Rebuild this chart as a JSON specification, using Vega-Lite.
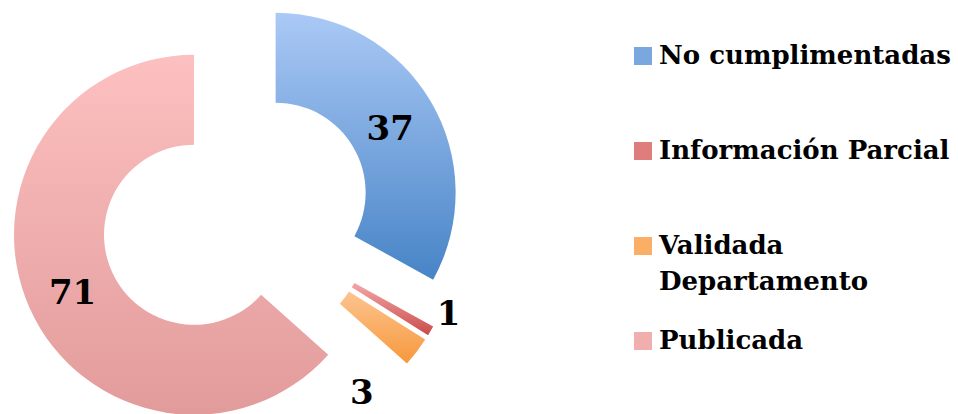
{
  "$schema": "https://vega.github.io/schema/vega-lite/v6.json",
  "width": 472,
  "height": 432,
  "padding": 0,
  "autosize": {"type": "pad"},
  "background": "white",
  "data": {
    "values": [
      {"cat": "No cumplimentadas", "value": 37, "orden": 1},
      {"cat": "Información Parcial", "value": 1, "orden": 2},
      {"cat": "Validada Departamento", "value": 3, "orden": 3},
      {"cat": "Publicada", "value": 71, "orden": 4}
    ]
  },
  "layer": [
    {
      "mark": {
        "type": "arc",
        "radius": 180,
        "radius2": 90,
        "xOffset": {"expr": "46*sin(scale('theta',(datum.value_start+datum.value_end)/2))"},
        "yOffset": {"expr": "-46*cos(scale('theta',(datum.value_start+datum.value_end)/2))"}
      },
      "encoding": {
        "theta": {"field": "value", "type": "quantitative", "stack": true},
        "order": {"field": "orden", "type": "quantitative", "sort": "ascending"},
        "fill": {
          "field": "cat",
          "type": "nominal",
          "sort": ["No cumplimentadas", "Información Parcial", "Validada Departamento", "Publicada"],
          "scale": {
            "domain": ["No cumplimentadas", "Información Parcial", "Validada Departamento", "Publicada"],
            "range": ["#7aa7de", "#df7c7c", "#faae66", "#f0aeae"]
          },
          "condition": [
            {"test": "datum.cat == 'No cumplimentadas'", "value": {"gradient": "linear", "x1": 0, "y1": 0, "x2": 0, "y2": 1, "stops": [{"offset": 0, "color": "#abc9f6"}, {"offset": 1, "color": "#4784c6"}]}},
            {"test": "datum.cat == 'Información Parcial'", "value": {"gradient": "linear", "x1": 0, "y1": 0, "x2": 0, "y2": 1, "stops": [{"offset": 0, "color": "#f4a6a6"}, {"offset": 1, "color": "#c94c4c"}]}},
            {"test": "datum.cat == 'Validada Departamento'", "value": {"gradient": "linear", "x1": 0, "y1": 0, "x2": 0, "y2": 1, "stops": [{"offset": 0, "color": "#fdc490"}, {"offset": 1, "color": "#f7983c"}]}},
            {"test": "datum.cat == 'Publicada'", "value": {"gradient": "linear", "x1": 0, "y1": 0, "x2": 0, "y2": 1, "stops": [{"offset": 0, "color": "#fdc0c0"}, {"offset": 1, "color": "#e29b9b"}]}}
          ],
          "legend": {
            "title": null,
            "orient": "none",
            "legendX": 630,
            "legendY": 43,
            "padding": 0,
            "symbolType": "square",
            "symbolSize": 324,
            "symbolStrokeWidth": 0,
            "labelFont": "DejaVu Serif",
            "labelFontWeight": "bold",
            "labelFontSize": 26,
            "labelColor": "black",
            "labelOffset": 3,
            "labelLimit": 0,
            "rowPadding": 33,
            "gridAlign": "all",
            "labelExpr": "datum.label == 'Validada Departamento' ? ['Validada', 'Departamento'] : datum.label",
            "encode": {"labels": {"update": {"lineHeight": {"value": 36}}}}
          }
        }
      }
    },
    {
      "mark": {
        "type": "text",
        "font": "DejaVu Serif",
        "fontWeight": "bold",
        "fontSize": 34,
        "align": "center",
        "baseline": "middle",
        "dy": 5,
        "xOffset": {"expr": "46*sin(scale('theta',(datum.value_start+datum.value_end)/2)) + (datum.cat=='Información Parcial' ? 187 : datum.cat=='Validada Departamento' ? 170 : 133)*sin(scale('theta',(datum.value_start+datum.value_end)/2) + (datum.cat=='Información Parcial' ? -0.143 : datum.cat=='Validada Departamento' ? 0.375 : 0))"},
        "yOffset": {"expr": "-46*cos(scale('theta',(datum.value_start+datum.value_end)/2)) - (datum.cat=='Información Parcial' ? 187 : datum.cat=='Validada Departamento' ? 170 : 133)*cos(scale('theta',(datum.value_start+datum.value_end)/2) + (datum.cat=='Información Parcial' ? -0.143 : datum.cat=='Validada Departamento' ? 0.375 : 0))"}
      },
      "encoding": {
        "theta": {"field": "value", "type": "quantitative", "stack": true},
        "order": {"field": "orden", "type": "quantitative", "sort": "ascending"},
        "detail": {"field": "cat", "type": "nominal"},
        "color": {"value": "black"},
        "text": {"field": "value", "type": "quantitative"}
      }
    }
  ],
  "config": {"view": {"stroke": null}}
}
